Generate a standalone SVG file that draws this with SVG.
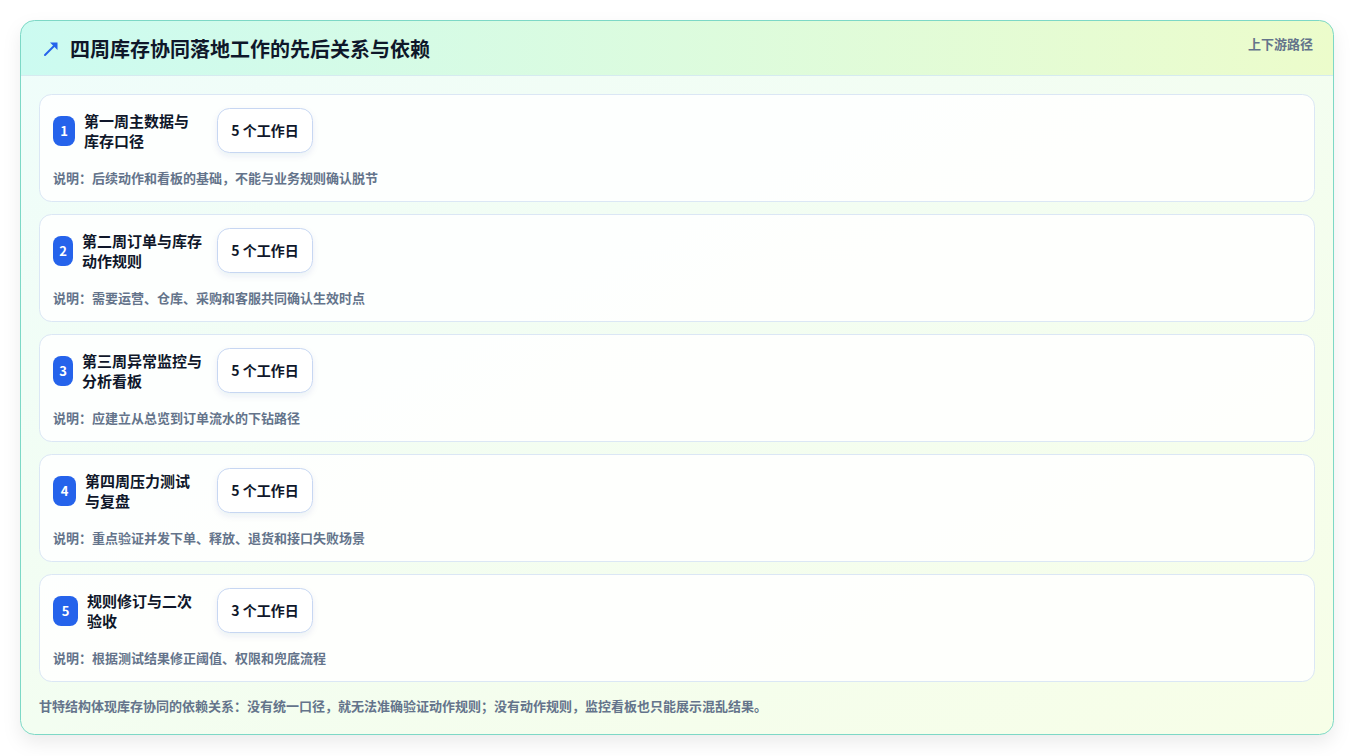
<svg xmlns="http://www.w3.org/2000/svg" width="1354" height="756" viewBox="0 0 1354 756">
  <defs>
    <linearGradient id="hdr" x1="0" y1="0" x2="1" y2="0">
      <stop offset="0" stop-color="#ccfbf1"/>
      <stop offset="1" stop-color="#ecfccb"/>
    </linearGradient>
    <linearGradient id="body" x1="0" y1="0" x2="1" y2="1">
      <stop offset="0" stop-color="#effdfb"/>
      <stop offset="1" stop-color="#f7fee7"/>
    </linearGradient>
    <clipPath id="cardClip">
      <rect x="20.5" y="20.5" width="1313" height="714" rx="14"/>
    </clipPath>
    <filter id="cardShadow" x="-5%" y="-5%" width="110%" height="115%">
      <feDropShadow dx="0" dy="8" stdDeviation="9" flood-color="#0f172a" flood-opacity="0.08"/>
    </filter>
    <filter id="pillShadow" x="-20%" y="-20%" width="140%" height="160%">
      <feDropShadow dx="0" dy="3" stdDeviation="3" flood-color="#1e3a8a" flood-opacity="0.08"/>
    </filter>
  </defs>
  <style>
    text { font-family: "Noto Sans CJK SC", "Noto Sans", "Liberation Sans", sans-serif; }
    .row { fill: #ffffff; fill-opacity: 0.85; stroke: #dbe7f5; stroke-width: 1; }
    .badge { fill: #2563eb; }
    .num { fill: #ffffff; font-size: 13px; font-weight: 700; text-anchor: middle; }
    .ttl { fill: #0f172a; font-size: 15px; font-weight: 600; }
    .pill { fill: #ffffff; stroke: #c7d7f2; stroke-width: 1; }
    .pt { fill: #0f172a; font-size: 14px; font-weight: 700; text-anchor: middle; }
    .desc { fill: #64748b; font-size: 13px; font-weight: 600; }
  </style>
  <rect width="1354" height="756" fill="#ffffff"/>
  <g id="card">
    <rect x="20.5" y="20.5" width="1313" height="714" rx="14" fill="url(#body)" filter="url(#cardShadow)"/>
    <g clip-path="url(#cardClip)">
      <rect x="20" y="20" width="1314" height="55" fill="url(#hdr)"/>
      <line x1="20" y1="75.5" x2="1334" y2="75.5" stroke="#d6ebf0" stroke-width="1"/>
    </g>
    <rect x="20.5" y="20.5" width="1313" height="714" rx="14" fill="none" stroke="#7dd8c6" stroke-width="1"/>
  </g>
  <g id="header">
    <g id="icon" fill="#2563eb" stroke="#2563eb">
      <line x1="45" y1="55" x2="54" y2="46" stroke-width="2" stroke-linecap="round"/>
      <polygon points="57.5,42.5 57.5,50 50,42.5" stroke="none"/>
    </g>
    <text x="70" y="56.5" font-size="20" font-weight="700" fill="#0f172a">四周库存协同落地工作的先后关系与依赖</text>
    <text x="1313" y="49" font-size="13" font-weight="600" fill="#64748b" text-anchor="end">上下游路径</text>
  </g>
  <g id="connectors"></g>
  <g id="step1">
    <rect class="row" x="39.5" y="94.5" width="1275" height="107" rx="12"/>
    <rect class="badge" x="53" y="116" width="22" height="30" rx="8"/>
    <text class="num" x="64" y="135.5">1</text>
    <text class="ttl" x="84" y="126.5">第一周主数据与</text>
    <text class="ttl" x="84" y="146.5">库存口径</text>
    <rect class="pill" x="217.5" y="108.5" width="95" height="44" rx="12" filter="url(#pillShadow)"/>
    <text class="pt" x="265" y="135.5">5 个工作日</text>
    <text class="desc" x="53" y="182.5">说明：后续动作和看板的基础，不能与业务规则确认脱节</text>
  </g>
  <g id="step2">
    <rect class="row" x="39.5" y="214.5" width="1275" height="107" rx="12"/>
    <rect class="badge" x="53" y="236" width="20" height="30" rx="8"/>
    <text class="num" x="63" y="255.5">2</text>
    <text class="ttl" x="82" y="246.5">第二周订单与库存</text>
    <text class="ttl" x="82" y="266.5">动作规则</text>
    <rect class="pill" x="217.5" y="228.5" width="95" height="44" rx="12" filter="url(#pillShadow)"/>
    <text class="pt" x="265" y="255.5">5 个工作日</text>
    <text class="desc" x="53" y="302.5">说明：需要运营、仓库、采购和客服共同确认生效时点</text>
  </g>
  <g id="step3">
    <rect class="row" x="39.5" y="334.5" width="1275" height="107" rx="12"/>
    <rect class="badge" x="53" y="356" width="20" height="30" rx="8"/>
    <text class="num" x="63" y="375.5">3</text>
    <text class="ttl" x="82" y="366.5">第三周异常监控与</text>
    <text class="ttl" x="82" y="386.5">分析看板</text>
    <rect class="pill" x="217.5" y="348.5" width="95" height="44" rx="12" filter="url(#pillShadow)"/>
    <text class="pt" x="265" y="375.5">5 个工作日</text>
    <text class="desc" x="53" y="422.5">说明：应建立从总览到订单流水的下钻路径</text>
  </g>
  <g id="step4">
    <rect class="row" x="39.5" y="454.5" width="1275" height="107" rx="12"/>
    <rect class="badge" x="53" y="476" width="23" height="30" rx="8"/>
    <text class="num" x="64.5" y="495.5">4</text>
    <text class="ttl" x="85" y="486.5">第四周压力测试</text>
    <text class="ttl" x="85" y="506.5">与复盘</text>
    <rect class="pill" x="217.5" y="468.5" width="95" height="44" rx="12" filter="url(#pillShadow)"/>
    <text class="pt" x="265" y="495.5">5 个工作日</text>
    <text class="desc" x="53" y="542.5">说明：重点验证并发下单、释放、退货和接口失败场景</text>
  </g>
  <g id="step5">
    <rect class="row" x="39.5" y="574.5" width="1275" height="107" rx="12"/>
    <rect class="badge" x="53" y="596" width="25" height="30" rx="8"/>
    <text class="num" x="65.5" y="615.5">5</text>
    <text class="ttl" x="87" y="606.5">规则修订与二次</text>
    <text class="ttl" x="87" y="626.5">验收</text>
    <rect class="pill" x="217.5" y="588.5" width="95" height="44" rx="12" filter="url(#pillShadow)"/>
    <text class="pt" x="265" y="615.5">3 个工作日</text>
    <text class="desc" x="53" y="662.5">说明：根据测试结果修正阈值、权限和兜底流程</text>
  </g>
  <g id="footer">
    <text x="39" y="710.5" font-size="13" font-weight="600" fill="#64748b">甘特结构体现库存协同的依赖关系：没有统一口径，就无法准确验证动作规则；没有动作规则，监控看板也只能展示混乱结果。</text>
  </g>
</svg>
